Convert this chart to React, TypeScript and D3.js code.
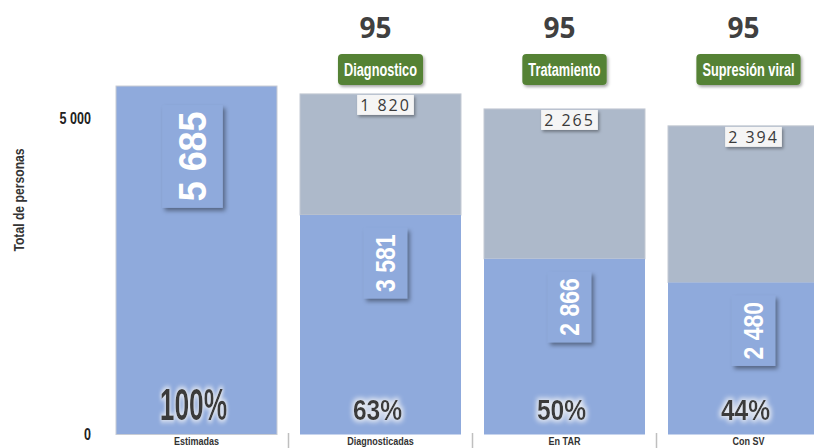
import React from 'react';
import * as d3 from 'd3';

const categories = ['Estimadas', 'Diagnosticadas', 'En TAR', 'Con SV'];
const values = [5685, 3581, 2866, 2480];
const valueLabels = ['5 685', '3 581', '2 866', '2 480'];
const percentLabels = ['100%', '63%', '50%', '44%'];
// gap-to-target segments (drawn heights) and their printed labels
const gapValues = [0, 1975, 2445, 2555];
const gapLabels = ['', '1 820', '2 265', '2 394'];
const targetLabels = ['', '95', '95', '95'];
const stageLabels = ['', 'Diagnostico', 'Tratamiento', 'Supresión viral'];
const yTicks = [0, 5000];
const yTickLabels = ['0', '5 000'];
const yTitle = 'Total de personas';

const W = 814;
const H = 448;
const BLUE = '#8FAADC';
const GRAY = '#ADB9CA';
const GREEN = '#548235';
const COND = "'Liberation Sans', Arial, sans-serif";

let ctx: CanvasRenderingContext2D | null = null;
function measure(text: string, font: string): number {
  if (!ctx) ctx = document.createElement('canvas').getContext('2d');
  if (!ctx) return text.length * 10;
  ctx.font = font;
  return ctx.measureText(text).width;
}

export default function App() {
  const x = d3
    .scaleBand<string>()
    .domain(categories)
    .range([104.5, 840.5])
    .paddingInner(0.125)
    .paddingOuter(0.0625);
  const y = d3.scaleLinear().domain([0, 6000]).range([434.5, 66.7]);
  const yAxis = d3.scaleLinear().domain([0, 5000]).range([434, 118]);
  const bw = x.bandwidth();
  const gapPx = x.step() - bw;

  return (
    <svg width={W} height={H} style={{ position: 'absolute', left: 0, top: 0 }} xmlns="http://www.w3.org/2000/svg">
      <defs>
        <filter id="shadow" x="-30%" y="-30%" width="160%" height="160%">
          <feDropShadow dx="2.5" dy="3" stdDeviation="2" floodColor="#000" floodOpacity="0.4" />
        </filter>
        <filter id="softshadow" x="-30%" y="-30%" width="160%" height="160%">
          <feDropShadow dx="1.5" dy="2" stdDeviation="1.5" floodColor="#000" floodOpacity="0.35" />
        </filter>
        <filter id="glow" x="-30%" y="-30%" width="160%" height="160%">
          <feMorphology in="SourceAlpha" operator="dilate" radius="2" result="d" />
          <feGaussianBlur in="d" stdDeviation="2.5" result="b" />
          <feFlood floodColor="#eef0f4" floodOpacity="0.85" />
          <feComposite in2="b" operator="in" result="g" />
          <feMerge>
            <feMergeNode in="g" />
            <feMergeNode in="SourceGraphic" />
          </feMerge>
        </filter>
      </defs>

      {/* y axis title */}
      <text
        transform={`translate(24,200) rotate(-90) scale(0.87,1)`}
        textAnchor="middle"
        fontFamily={COND}
        fontWeight="bold"
        fontSize={14}
        fill="#333"
      >
        {yTitle}
      </text>

      {/* y tick labels */}
      {yTicks.map((t, i) => (
        <text
          key={t}
          transform={`translate(91,${yAxis(t)}) scale(0.74,1)`}
          textAnchor="end"
          dominantBaseline="central"
          fontFamily={COND}
          fontWeight="bold"
          fontSize={17}
          fill="#222"
        >
          {yTickLabels[i]}
        </text>
      ))}

      {/* category separators */}
      {categories.slice(1).map((c) => (
        <line
          key={c}
          x1={(x(c) as number) - gapPx / 2}
          x2={(x(c) as number) - gapPx / 2}
          y1={433}
          y2={H}
          stroke="#bfbfbf"
          strokeWidth={1.5}
        />
      ))}

      {categories.map((c, i) => {
        const x0 = x(c) as number;
        const cx = x0 + bw / 2;
        const v = values[i];
        const g = gapValues[i];
        const segTop = y(v);
        const gapTop = y(v + g);
        const big = i === 0;
        const vFont = big ? 39 : 28;
        const vScale = big ? 0.92 : 0.82;
        const vTw = measure(valueLabels[i], `bold ${vFont}px ${COND}`) * vScale;
        const boxW = vFont * 1.55;
        const boxH = vTw + 13;
        const boxTop = segTop + (big ? 19 : 13);
        const gapFont = `16px 'Open Sans', sans-serif`;
        const gTw = measure(gapLabels[i], gapFont) + gapLabels[i].length * 2;
        const stFont = 18.5;
        const stScale = 0.69;
        const stTw = measure(stageLabels[i], `bold ${stFont}px ${COND}`) * stScale;
        return (
          <g key={c}>
            {g > 0 && (
              <rect x={x0} y={gapTop} width={bw} height={segTop - gapTop} fill={GRAY} stroke="#c3c9d3" strokeWidth={1} />
            )}
            <rect x={x0} y={segTop} width={bw} height={y(0) - segTop} fill={BLUE} stroke={g > 0 ? 'none' : '#c8ccd4'} strokeWidth={1} />

            {/* value box */}
            <g transform={`translate(${cx + (big ? -4 : 5)},${boxTop + boxH / 2})`}>
              <rect x={-boxW / 2} y={-boxH / 2} width={boxW} height={boxH} fill={BLUE} filter="url(#shadow)" />
              <text
                transform={`rotate(-90) scale(${vScale},1)`}
                textAnchor="middle"
                dominantBaseline="central"
                fontFamily={COND}
                fontWeight="bold"
                fontSize={vFont}
                fill="#fff"
              >
                {valueLabels[i]}
              </text>
            </g>

            {/* percentage */}
            <text
              transform={`translate(${cx - 3},420) scale(${big ? 0.6 : 0.82},1)`}
              textAnchor="middle"
              fontFamily={COND}
              fontWeight="bold"
              fontSize={big ? 44 : 30}
              fill="#3a3a3a"
              filter="url(#glow)"
            >
              {percentLabels[i]}
            </text>

            {/* category label */}
            <text
              transform={`translate(${cx},445) scale(0.82,1)`}
              textAnchor="middle"
              fontFamily={COND}
              fontWeight="bold"
              fontSize={11}
              fill="#333"
            >
              {c}
            </text>

            {g > 0 && (
              <g>
                {/* gap label */}
                <rect
                  x={cx + 5 - (gTw + 6) / 2}
                  y={gapTop + 1}
                  width={gTw + 6}
                  height={20}
                  fill="#f5f5f5"
                  filter="url(#softshadow)"
                />
                <text
                  x={cx + 5}
                  y={gapTop + 17}
                  textAnchor="middle"
                  fontFamily="'Open Sans', sans-serif"
                  fontSize={16}
                  letterSpacing={2}
                  fill="#3a3a3a"
                >
                  {gapLabels[i]}
                </text>

                {/* target */}
                <text
                  x={cx - 5}
                  y={38}
                  textAnchor="middle"
                  fontFamily="'Open Sans', sans-serif"
                  fontWeight="bold"
                  fontSize={28}
                  fill="#404040"
                >
                  {targetLabels[i]}
                </text>

                {/* stage label */}
                <rect
                  x={cx - (stTw + 12) / 2}
                  y={54}
                  width={stTw + 12}
                  height={31}
                  rx={4}
                  fill={GREEN}
                  filter="url(#softshadow)"
                />
                <text
                  transform={`translate(${cx},76) scale(${stScale},1)`}
                  textAnchor="middle"
                  fontFamily={COND}
                  fontWeight="bold"
                  fontSize={stFont}
                  fill="#fff"
                >
                  {stageLabels[i]}
                </text>
              </g>
            )}
          </g>
        );
      })}
    </svg>
  );
}
